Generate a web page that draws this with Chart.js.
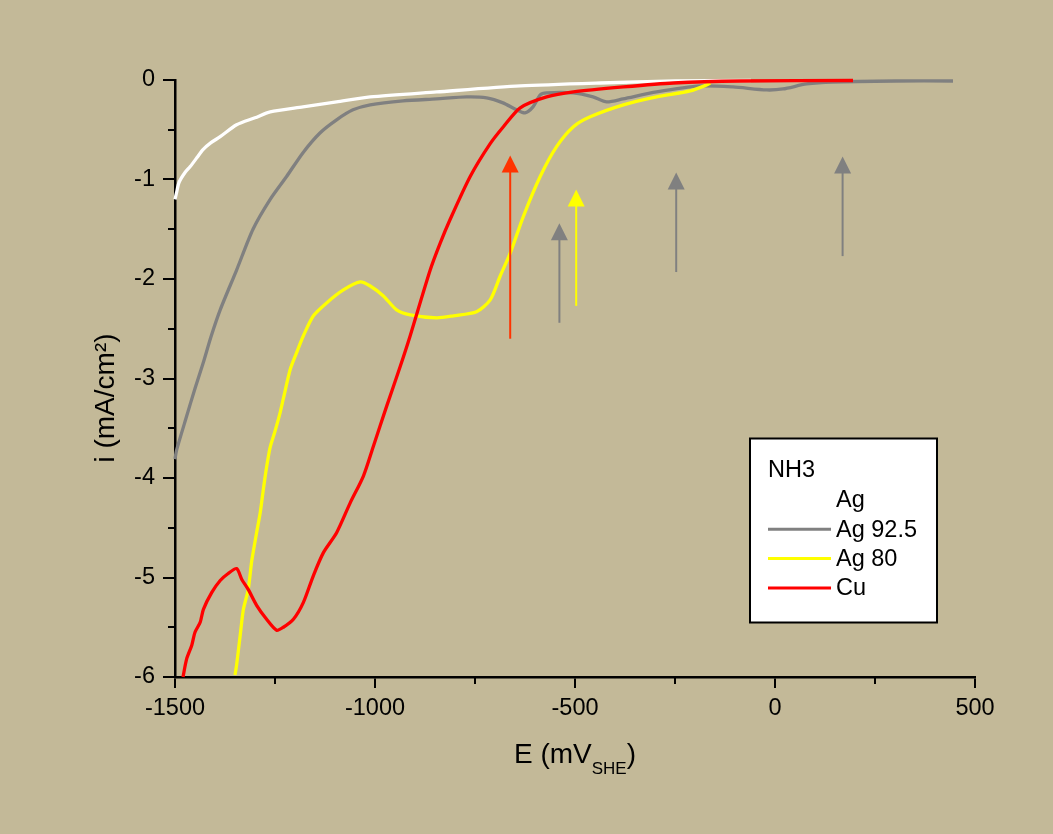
<!DOCTYPE html>
<html>
<head>
<meta charset="utf-8">
<script src="https://cdn.jsdelivr.net/npm/chart.js@4/dist/chart.umd.min.js"></script>
<style>
html,body{margin:0;padding:0;background:#C3B998;}
canvas{display:block;}
</style>
</head>
<body>
<canvas id="c" width="1053" height="834"></canvas>
<script>
// ---- data (E in mV_SHE, i in mA/cm²) ----
const agE = [-1500,-1496,-1490,-1475,-1462,-1445,-1430,-1410,-1387,-1346,-1300,-1262,-1180,-1096,-1012,-846,-637,-437,-250,-60];
const agI = [-1.20,-1.13,-1.03,-0.93,-0.87,-0.78,-0.70,-0.63,-0.57,-0.45,-0.38,-0.32,-0.27,-0.22,-0.17,-0.12,-0.06,-0.03,-0.01,-0.005];

const ag925E = [-1500,-1496,-1471,-1450,-1430,-1410,-1387,-1346,-1305,-1262,-1221,-1180,-1137,-1096,-1055,-1012,-930,-846,-771,-721,-680,-646,-625,-605,-587,-571,-505,-455,-421,-380,-296,-187,-105,-21,20,79,145,300,445];
const ag925I = [-3.81,-3.72,-3.38,-3.10,-2.85,-2.58,-2.31,-1.91,-1.50,-1.20,-0.97,-0.73,-0.53,-0.40,-0.30,-0.25,-0.21,-0.19,-0.17,-0.18,-0.23,-0.30,-0.33,-0.27,-0.15,-0.13,-0.13,-0.17,-0.22,-0.19,-0.12,-0.06,-0.07,-0.10,-0.09,-0.04,-0.02,-0.01,-0.01];

const ag80E = [-1350,-1346,-1337,-1329,-1317,-1308,-1296,-1287,-1279,-1271,-1262,-1250,-1237,-1229,-1212,-1196,-1179,-1154,-1121,-1079,-1037,-1012,-979,-946,-912,-846,-804,-746,-712,-687,-662,-629,-587,-546,-504,-462,-379,-296,-212,-171,-162];
const ag80I = [-5.98,-5.88,-5.58,-5.32,-5.12,-4.83,-4.55,-4.35,-4.11,-3.89,-3.69,-3.53,-3.34,-3.20,-2.91,-2.74,-2.57,-2.37,-2.24,-2.11,-2.03,-2.07,-2.17,-2.31,-2.36,-2.39,-2.37,-2.33,-2.21,-1.97,-1.74,-1.37,-0.97,-0.67,-0.47,-0.37,-0.25,-0.17,-0.11,-0.05,-0.03];

const cuE = [-1480,-1471,-1458,-1450,-1437,-1429,-1408,-1387,-1367,-1346,-1333,-1317,-1296,-1271,-1246,-1229,-1204,-1179,-1154,-1129,-1096,-1062,-1029,-1004,-971,-937,-912,-862,-837,-812,-762,-712,-679,-637,-571,-504,-379,-254,-87,195];
const cuI = [-6.00,-5.82,-5.68,-5.55,-5.45,-5.32,-5.15,-5.03,-4.96,-4.91,-5.02,-5.12,-5.28,-5.42,-5.53,-5.50,-5.42,-5.25,-4.98,-4.75,-4.55,-4.25,-3.98,-3.68,-3.28,-2.88,-2.57,-1.91,-1.64,-1.40,-0.97,-0.64,-0.47,-0.28,-0.17,-0.12,-0.07,-0.03,-0.01,-0.005];

const seriesLabels = ["Ag", "Ag 92.5", "Ag 80", "Cu"];
const legendTitle = "NH3";

// arrows: potential, start current, tip current
const arrowE    = [-662, -539, -497, -247, 169];
const arrowFrom = [-2.60, -2.44, -2.27, -1.93, -1.77];
const arrowTo   = [-0.76, -1.44, -1.10, -0.93, -0.77];

const xTicksMinor = [-1250, -750, -250, 250];
const yTicksMinor = [-0.5, -1.5, -2.5, -3.5, -4.5, -5.5];

const xTitle = "E (mV";
const xTitleSub = "SHE";
const yTitle = "i (mA/cm²)";

// ---- styles ----
const BG = "#C3B998";
const seriesColors = ["#FFFFFF", "#808080", "#FFFF00", "#FF0000"];
const arrowColors = ["#FF3300", "#808080", "#FFFF00", "#808080", "#808080"];
const FONT = "'Liberation Sans', Arial, sans-serif";

function pts(xs, ys){ return xs.map((x,k)=>({x:x, y:ys[k]})); }

const decor = {
  id: 'decor',
  beforeDraw(chart){
    const ctx = chart.ctx;
    ctx.save();
    ctx.fillStyle = BG;
    ctx.fillRect(0,0,chart.width,chart.height);
    ctx.restore();
  },
  afterDraw(chart){
    const ctx = chart.ctx;
    const xs = chart.scales.x, ys = chart.scales.y;
    const ca = chart.chartArea;
    ctx.save();
    // minor ticks
    ctx.strokeStyle = "#000"; ctx.lineWidth = 2;
    xTicksMinor.forEach(v=>{
      const px = Math.round(xs.getPixelForValue(v));
      ctx.beginPath(); ctx.moveTo(px, ca.bottom); ctx.lineTo(px, ca.bottom+7); ctx.stroke();
    });
    yTicksMinor.forEach(v=>{
      const py = Math.round(ys.getPixelForValue(v));
      ctx.beginPath(); ctx.moveTo(ca.left, py); ctx.lineTo(ca.left-7, py); ctx.stroke();
    });
    // arrows
    arrowE.forEach((e,k)=>{
      const px = xs.getPixelForValue(e);
      const y0 = ys.getPixelForValue(arrowFrom[k]);
      const y1 = ys.getPixelForValue(arrowTo[k]);
      const hh = 17, hw = 8.5;
      ctx.strokeStyle = arrowColors[k]; ctx.fillStyle = arrowColors[k];
      ctx.lineWidth = 2;
      ctx.beginPath(); ctx.moveTo(px, y0); ctx.lineTo(px, y1+hh-1); ctx.stroke();
      ctx.beginPath(); ctx.moveTo(px, y1); ctx.lineTo(px-hw, y1+hh); ctx.lineTo(px+hw, y1+hh); ctx.closePath(); ctx.fill();
    });
    // axis titles
    ctx.fillStyle = "#000";
    ctx.font = "28px " + FONT;
    ctx.textBaseline = "alphabetic";
    ctx.textAlign = "left";
    const w1 = ctx.measureText(xTitle).width;
    ctx.font = "17px " + FONT;
    const w2 = ctx.measureText(xTitleSub).width;
    ctx.font = "28px " + FONT;
    const w3 = ctx.measureText(")").width;
    const total = w1 + w2 + w3;
    let tx = (ca.left + ca.right)/2 - total/2;
    const by = 763;
    ctx.fillText(xTitle, tx, by);
    ctx.font = "17px " + FONT;
    ctx.fillText(xTitleSub, tx + w1, by + 11);
    ctx.font = "28px " + FONT;
    ctx.fillText(")", tx + w1 + w2, by);
    ctx.save();
    ctx.translate(106, 398);
    ctx.rotate(-Math.PI/2);
    ctx.textAlign = "center"; ctx.textBaseline = "middle";
    ctx.fillText(yTitle, 0, 0);
    ctx.restore();
    // legend
    const L = 750, T = 438.5, R = 937, B = 622.5;
    ctx.fillStyle = "#FFFFFF";
    ctx.fillRect(L, T, R-L, B-T);
    ctx.strokeStyle = "#000"; ctx.lineWidth = 2;
    ctx.strokeRect(L, T, R-L, B-T);
    ctx.fillStyle = "#000";
    ctx.font = "23.5px " + FONT;
    ctx.textAlign = "left"; ctx.textBaseline = "middle";
    ctx.fillText(legendTitle, 768, 471);
    const ds = chart.data.datasets;
    seriesLabels.forEach((lab,k)=>{
      const yy = 500 + k*29.3;
      ctx.strokeStyle = ds[k].borderColor; ctx.lineWidth = 3;
      ctx.beginPath(); ctx.moveTo(768, yy); ctx.lineTo(831, yy); ctx.stroke();
      ctx.fillStyle = "#000";
      ctx.fillText(lab, 836, yy+1);
    });
    ctx.restore();
  }
};

const ds = [
  {label: seriesLabels[0], data: pts(agE, agI), borderColor: seriesColors[0], order: 4},
  {label: seriesLabels[1], data: pts(ag925E, ag925I), borderColor: seriesColors[1], order: 3},
  {label: seriesLabels[2], data: pts(ag80E, ag80I), borderColor: seriesColors[2], order: 2},
  {label: seriesLabels[3], data: pts(cuE, cuI), borderColor: seriesColors[3], order: 1}
].map(d=>Object.assign(d, {borderWidth: 3.3, pointRadius: 0, tension: 0.25, fill: false, clip: 4}));

new Chart(document.getElementById('c'), {
  type: 'line',
  data: {datasets: ds},
  plugins: [decor],
  options: {
    responsive: false,
    animation: false,
    devicePixelRatio: 1,
    layout: {padding: {top: 80, right: 78, left: 0, bottom: 0}},
    plugins: {legend: {display: false}, tooltip: {enabled: false}},
    scales: {
      x: {
        type: 'linear', min: -1500, max: 500,
        afterFit(s){ s.height = 157; },
        border: {display: true, color: '#000', width: 2.5},
        grid: {drawOnChartArea: false, drawTicks: true, tickLength: 11, color: '#000', lineWidth: 2},
        ticks: {stepSize: 500, color: '#000', padding: 6, font: {family: FONT, size: 23.5},
                callback: v => String(v), maxRotation: 0, autoSkip: false}
      },
      y: {
        type: 'linear', min: -6, max: 0,
        afterFit(s){ s.width = 175; },
        border: {display: true, color: '#000', width: 2.5},
        grid: {drawOnChartArea: false, drawTicks: true, tickLength: 12, color: '#000', lineWidth: 2},
        ticks: {stepSize: 1, color: '#000', padding: 8, font: {family: FONT, size: 23.5},
                callback: v => String(v), autoSkip: false}
      }
    }
  }
});
</script>
</body>
</html>
